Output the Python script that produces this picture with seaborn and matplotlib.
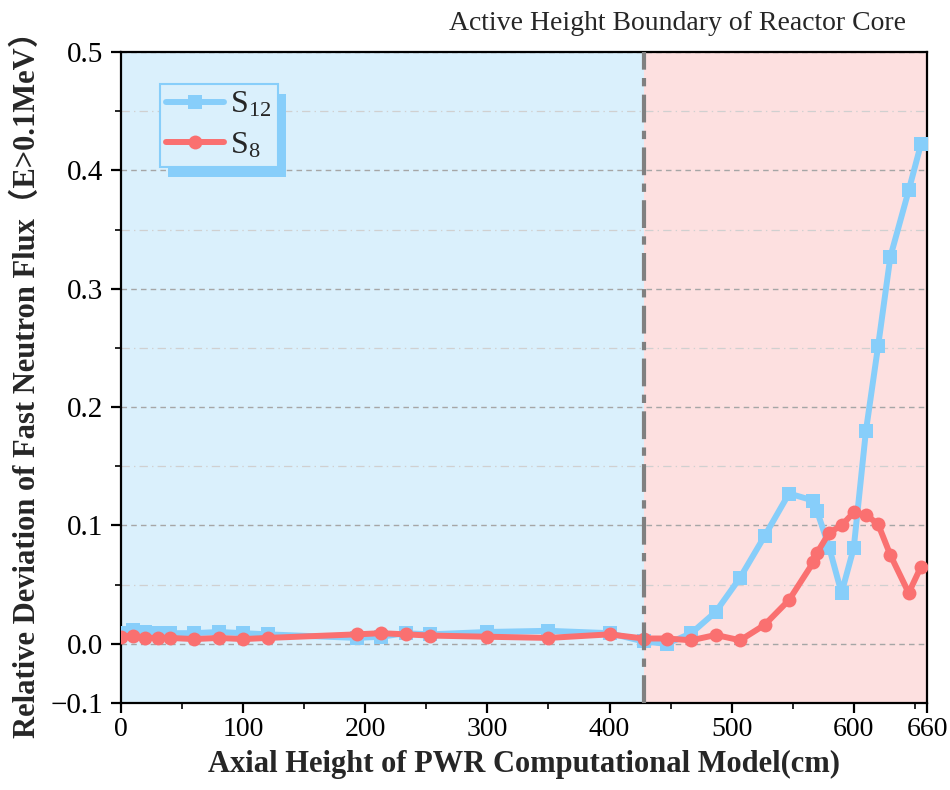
import numpy as np
import pandas as pd
import seaborn as sns
import matplotlib
matplotlib.use("Agg")
import matplotlib.pyplot as plt
from matplotlib.ticker import FixedLocator
from matplotlib.patches import Rectangle
from matplotlib.transforms import IdentityTransform

# ---------------- data ----------------
height_cm = [0, 10, 20, 30, 40, 60, 80, 100, 120, 193, 213, 233, 253, 300, 350, 400,
             428, 447, 467, 487, 507, 527, 547, 567, 570, 580, 590, 600, 610, 620, 630, 645, 655]
s12_dev = [0.009, 0.012, 0.010, 0.009, 0.009, 0.009, 0.010, 0.009, 0.008, 0.005, 0.006, 0.009,
           0.008, 0.010, 0.011, 0.009, 0.002, 0.000, 0.009, 0.027, 0.056, 0.091, 0.127, 0.121,
           0.112, 0.081, 0.043, 0.081, 0.180, 0.252, 0.327, 0.383, 0.422]
s8_dev = [0.006, 0.007, 0.005, 0.005, 0.005, 0.004, 0.005, 0.004, 0.005, 0.008, 0.009, 0.008,
          0.007, 0.006, 0.005, 0.008, 0.0045, 0.0045, 0.003, 0.0075, 0.003, 0.016, 0.037, 0.069,
          0.077, 0.094, 0.100, 0.111, 0.109, 0.101, 0.075, 0.043, 0.065]
series_labels = ["S$_{12}$", "S$_{8}$"]
core_boundary = 428
x_range = [0, 660]
y_range = [-0.05, 0.5]
x_major = [0, 100, 200, 300, 400, 500, 600, 660]
x_major_labels = ["0", "100", "200", "300", "400", "500", "600", "660"]
x_minor = [50, 150, 250, 350, 450, 550, 650]
y_major = [-0.05, 0.0, 0.1, 0.2, 0.3, 0.4, 0.5]
y_major_labels = ["\u22120.1", "0.0", "0.1", "0.2", "0.3", "0.4", "0.5"]
y_minor = [0.05, 0.15, 0.25, 0.35, 0.45]
title_text = "Active Height Boundary of Reactor Core"
x_label = "Axial Height of PWR Computational Model(cm)"
y_label = "Relative Deviation of Fast Neutron Flux\uff08E>0.1MeV\uff09"

# ---------------- style ----------------
sns.set_theme(style="ticks")
serif = ["Liberation Serif", "Noto Sans CJK SC", "DejaVu Sans"]
plt.rcParams["font.family"] = serif
plt.rcParams["mathtext.fontset"] = "custom"
plt.rcParams["mathtext.rm"] = "Liberation Serif"
plt.rcParams["mathtext.it"] = "Liberation Serif:italic"
plt.rcParams["lines.scale_dashes"] = False

BLUE = "#87CEFA"
RED = "#FA7070"
BG_BLUE = "#DAF0FC"
BG_PINK = "#FDE0E0"
GRAY = "#808080"

fig = plt.figure(figsize=(9.5, 7.9), dpi=100)
ax = fig.add_axes([0.1274, 0.1101, 0.8484, 0.8241])

ax.axvspan(x_range[0], core_boundary, color=BG_BLUE, lw=0, zorder=0)
ax.axvspan(core_boundary, x_range[1], color=BG_PINK, lw=0, zorder=0)

df = pd.DataFrame({"h": height_cm, "s12": s12_dev, "s8": s8_dev})
sns.lineplot(data=df, x="h", y="s12", ax=ax, color=BLUE, lw=4.3, marker="s",
             markersize=9.5, markeredgecolor=BLUE, markeredgewidth=0,
             label=series_labels[0], zorder=3)
sns.lineplot(data=df, x="h", y="s8", ax=ax, color=RED, lw=4.3, marker="o",
             markersize=10, markeredgecolor=RED, markeredgewidth=0,
             label=series_labels[1], zorder=4)

ax.axvline(core_boundary, color=GRAY, lw=3, dashes=(20, 6, 6, 6), zorder=5)

ax.set_xlim(*x_range)
ax.set_ylim(*y_range)
ax.xaxis.set_major_locator(FixedLocator(x_major))
ax.xaxis.set_minor_locator(FixedLocator(x_minor))
ax.set_xticklabels(x_major_labels)
ax.yaxis.set_major_locator(FixedLocator(y_major))
ax.yaxis.set_minor_locator(FixedLocator(y_minor))
ax.set_yticklabels(y_major_labels)

ax.yaxis.grid(True, which="major", linestyle=(0, (4, 3)), color="#A6A6A6", lw=1.0, zorder=1)
ax.yaxis.grid(True, which="minor", linestyle=(0, (6, 3, 1, 3)), color="#D0D0D0", lw=0.9, zorder=1)
ax.xaxis.grid(False)
ax.set_axisbelow(True)

for s in ax.spines.values():
    s.set_visible(True)
    s.set_linewidth(1.6)
    s.set_color("black")

ax.tick_params(axis="both", which="major", direction="out", length=7, width=1.6,
               colors="black", pad=6)
ax.tick_params(axis="x", which="major", labelsize=20, pad=3)
ax.tick_params(axis="y", which="major", labelsize=21)
ax.tick_params(axis="both", which="minor", direction="out", length=4, width=1.4)
ax.tick_params(top=False, right=False, which="both")

ax.set_xlabel(x_label, fontsize=22, fontweight="bold", family=serif, labelpad=6)
ax.set_ylabel(y_label, fontsize=22, fontweight="bold", family=serif, labelpad=6)

fig.text(0.713, 0.970, title_text, fontsize=20, ha="center", va="center", family=serif)

leg = ax.legend(loc="upper left", bbox_to_anchor=(0.048, 0.951), borderaxespad=0,
                fontsize=23, frameon=True, fancybox=False, framealpha=1,
                edgecolor=BLUE, facecolor=BG_BLUE, handlelength=1.8, handletextpad=0.2,
                labelspacing=0.35, borderpad=0.2)
leg.get_frame().set_linewidth(1.5)
leg.set_zorder(10)

fig.canvas.draw()
bb = leg.get_frame().get_window_extent(fig.canvas.get_renderer())
shadow = Rectangle((bb.x0 + 8, bb.y0 - 10), bb.width, bb.height, transform=IdentityTransform(),
                   facecolor=BLUE, edgecolor="none", zorder=9.5)
ax.add_artist(shadow)

fig.savefig("out.png", dpi=100)
